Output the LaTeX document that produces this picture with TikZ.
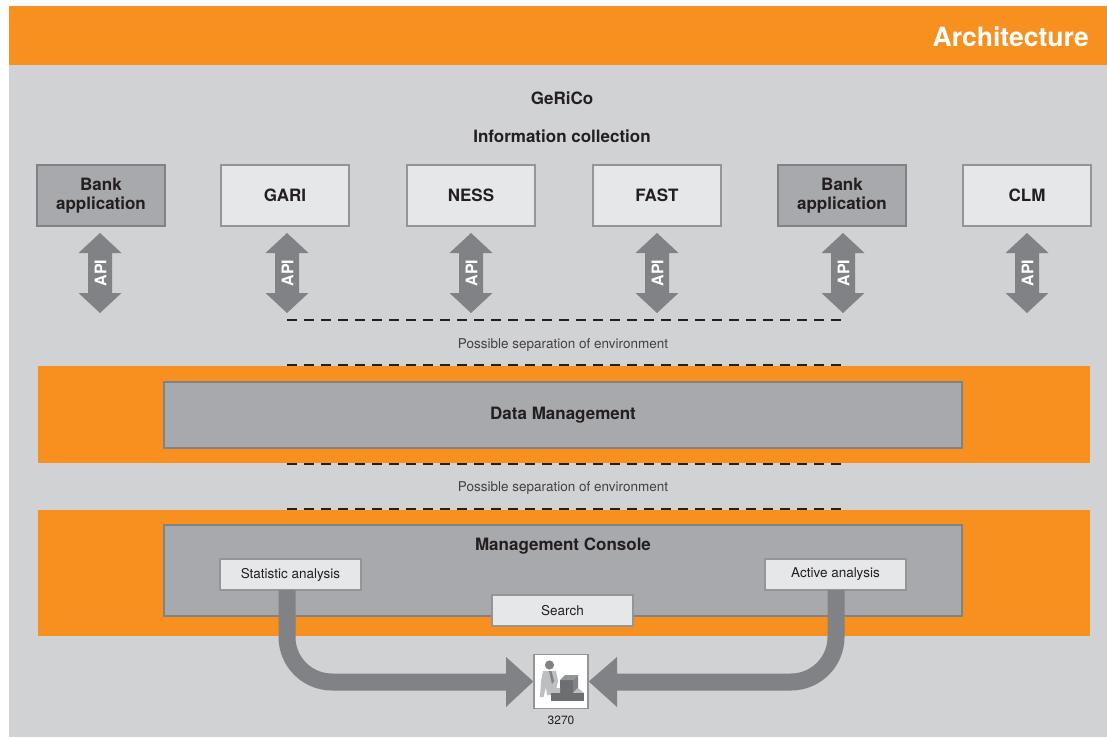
\documentclass[tikz,border=0pt]{standalone}
\usepackage{fontspec}
\setmainfont{TeX Gyre Heros}
\usetikzlibrary{calc}
\definecolor{orng}{HTML}{F7901E}
\definecolor{bg}{HTML}{D1D2D4}
\definecolor{boxdark}{HTML}{A7A9AC}
\definecolor{bordark}{HTML}{808285}
\definecolor{boxlight}{HTML}{E6E7E8}
\definecolor{borlight}{HTML}{939598}
\definecolor{agray}{HTML}{808285}
\definecolor{txt}{HTML}{231F20}
\definecolor{iconlight}{HTML}{BCBEC0}
\definecolor{icondark}{HTML}{6D6E71}
\begin{document}
\begin{tikzpicture}[x=1pt,y=-1pt,
  bigtxt/.style={font=\fontsize{17}{19.5}\selectfont\bfseries, text=txt},
  smalltxt/.style={font=\fontsize{13.5}{16}\selectfont, text=txt},
  darkbox/.style={draw=bordark, fill=boxdark, line width=2pt, minimum width=128, minimum height=61, inner sep=0, align=center, bigtxt},
  lightbox/.style={draw=borlight, fill=boxlight, line width=2pt, minimum width=128, minimum height=61, inner sep=0, align=center, bigtxt},
  subbox/.style={draw=borlight, fill=boxlight, line width=2pt, minimum width=141, minimum height=31, inner sep=0, smalltxt},
  sepline/.style={line width=2.8pt, dash pattern=on 10pt off 7pt, color=txt},
  thickarrow/.style={line width=17pt, color=agray, rounded corners=45pt},
  apiarrow/.pic={
    \fill[agray] (-12,-20) -- (-21.5,-20) -- (0,-40) -- (21.5,-20) -- (12,-20) -- (12,20) -- (21.5,20) -- (0,40) -- (-21.5,20) -- (-12,20) -- cycle;
    \node[rotate=90, text=white, font=\fontsize{16}{18}\selectfont\bfseries, inner sep=0] at (0.5,0) {API};
  }
]
\useasboundingbox (0,0) rectangle (1107,738);
% background
\fill[white] (0,0) rectangle (1107,738);
\fill[bg] (9,65) rectangle (1107,737);
\fill[orng] (9,6) rectangle (1107,65);
\node[anchor=east, text=white, font=\fontsize{26.5}{30}\selectfont\bfseries, inner sep=0] (arch) at (1089,37) {Architecture};

% titles
\node[bigtxt] (gerico) at (562,98) {GeRiCo};
\node[bigtxt] (info) at (562,136) {Information collection};

% top boxes
\node[darkbox]  (bank1) at (101,195.5) {Bank\\application};
\node[lightbox] (gari)  at (285,195.5) {GARI};
\node[lightbox] (ness)  at (471,195.5) {NESS};
\node[lightbox] (fast)  at (657,195.5) {FAST};
\node[darkbox]  (bank2) at (842,195.5) {Bank\\application};
\node[lightbox] (clm)   at (1027,195.5) {CLM};

% API arrows
\foreach \xx in {100,287,471,657,843,1027} {
  \pic at (\xx,273) {apiarrow};
}

% orange bands
\fill[orng] (38,366) rectangle (1090,463);
\fill[orng] (38,510) rectangle (1090,636);

% separation lines
\coordinate (s1a) at (287,320); \coordinate (s1b) at (845,320);
\coordinate (s2a) at (287,365); \coordinate (s2b) at (845,365);
\coordinate (s3a) at (287,464); \coordinate (s3b) at (845,464);
\coordinate (s4a) at (287,509); \coordinate (s4b) at (845,509);
\draw[sepline] (s1a) -- (s1b);
\draw[sepline] (s2a) -- (s2b);
\draw[sepline] (s3a) -- (s3b);
\draw[sepline] (s4a) -- (s4b);
\node[smalltxt, text=txt!85] (sep1) at (563,345) {Possible separation of environment};
\node[smalltxt, text=txt!85] (sep2) at (563,488) {Possible separation of environment};

% data management
\node[draw=bordark, fill=boxdark, line width=2pt, minimum width=798, minimum height=66, inner sep=0, bigtxt] (dm) at (563,415) {Data Management};

% management console
\node[draw=bordark, fill=boxdark, line width=2pt, minimum width=798, minimum height=91, inner sep=0] (mc) at (563,570.5) {};
\node[bigtxt] (mctitle) at (563,546) {Management Console};

% terminal icon
\node[draw=borlight, fill=white, line width=1.5pt, minimum size=54, inner sep=0] (term) at (561,681.5) {};
\node[font=\fontsize{12}{14}\selectfont, text=txt, inner sep=0] (tlabel) at (561,720) {3270};
% person
\fill[agray] (549.5,665) circle (4.6);
\fill[iconlight] (543,671) -- (556,671) -- (558,681) -- (556,690) -- (553,695) -- (547,695) -- (546,687) -- (543.5,697) -- (540,697) -- (541,681) -- cycle;
\fill[agray] (549,671) -- (551.5,671) -- (554,681) -- (552,684) -- cycle;
% computer
\fill[icondark] (560,680) rectangle (573,693);
\fill[borlight] (560,680) -- (565,675) -- (578,675) -- (573,680) -- cycle;
\fill[agray] (573,680) -- (578,675) -- (578,688) -- (573,693) -- cycle;
\fill[iconlight] (551,693) -- (555,688) -- (560,688) -- (560,693) -- (573,693) -- (578,688) -- (584,693) -- cycle;
\fill[icondark] (551,693) rectangle (584,701);

% thick arrows
\coordinate (lc) at (287,682);
\coordinate (rc) at (836,682);
\coordinate (lhead) at (506,682);
\coordinate (rhead) at (617,682);

\node[subbox] (stat)   at (290.5,574.5) {Statistic analysis};
\node[subbox] (active) at (835.5,574.5) {Active analysis};
\node[subbox] (search) at (562.5,610.5) {Search};

\draw[thickarrow] ([yshift=1pt]lc |- stat.south) -- (lc) -- (lhead);
\fill[agray] (506,657) -- (term.west) -- (506,707) -- cycle;
\draw[thickarrow] ([yshift=1pt]rc |- active.south) -- (rc) -- (rhead);
\fill[agray] (617,657) -- (term.east) -- (617,707) -- cycle;
\end{tikzpicture}
\end{document}
